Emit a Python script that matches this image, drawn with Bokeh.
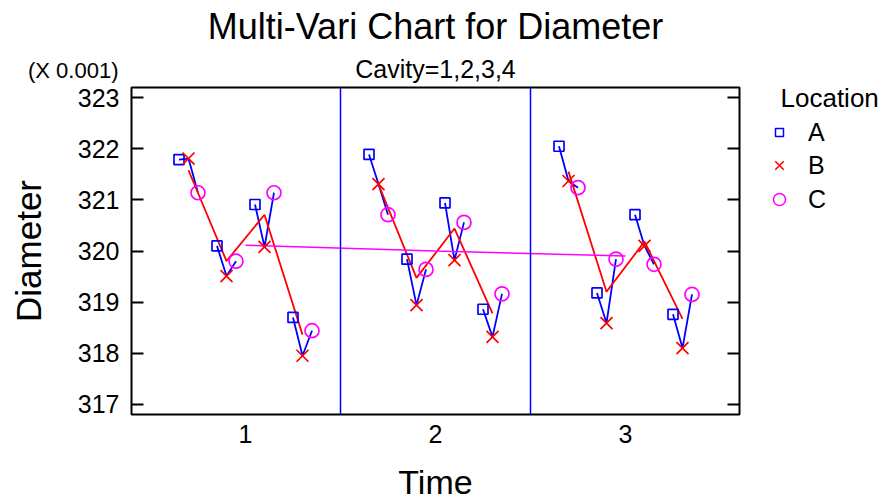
import numpy as np
from bokeh.plotting import figure
from bokeh.layouts import column, row
from bokeh.models import (LinearAxis, FixedTicker, Span, Legend, LegendItem,
                          Range1d)
from bokeh.core.properties import value
from bokeh.embed import file_html
from bokeh.resources import INLINE

# ---------------- data (Diameter, in units of 0.001) ----------------
times = [1, 2, 3]
time_labels = ["1", "2", "3"]
cavities = [1, 2, 3, 4]
locations = ["A", "B", "C"]

# rows = Time 1..3, columns = Cavity 1..4
diam_A = [[321.79, 320.10, 320.91, 318.70],
          [321.89, 319.84, 320.94, 318.86],
          [322.05, 319.18, 320.71, 318.76]]
diam_B = [[321.81, 319.51, 320.08, 317.95],
          [321.31, 318.94, 319.82, 318.32],
          [321.37, 318.59, 320.10, 318.10]]
diam_C = [[321.14, 319.80, 321.14, 318.44],
          [320.71, 319.64, 320.56, 319.16],
          [321.24, 319.84, 319.74, 319.15]]

y_ticks = [317, 318, 319, 320, 321, 322, 323]

title_text = "Multi-Vari Chart for Diameter"
subtitle_text = "Cavity=1,2,3,4"
scale_text = "(X 0.001)"
x_title = "Time"
y_title = "Diameter"
legend_title = "Location"

FONT = "Liberation Sans"
BLUE = "#0000FF"
RED = "#FF0000"
MAGENTA = "#FF00FF"

# ---------------- positions ----------------
cav_step = 0.2
loc_step = 0.05
A = np.array(diam_A); B = np.array(diam_B); C = np.array(diam_C)

xa, ya, xb, yb, xc, yc = [], [], [], [], [], []
blue_xs, blue_ys = [], []
red_xs, red_ys = [], []
mag_x, mag_y = [], []
for ti, t in enumerate(times):
    rx, ry = [], []
    for ci, c in enumerate(cavities):
        xm = t + (ci - (len(cavities) - 1) / 2) * cav_step
        pa, pb, pc = xm - loc_step, xm, xm + loc_step
        xa.append(pa); ya.append(A[ti, ci])
        xb.append(pb); yb.append(B[ti, ci])
        xc.append(pc); yc.append(C[ti, ci])
        blue_xs.append([pa, pb, pc])
        blue_ys.append([A[ti, ci], B[ti, ci], C[ti, ci]])
        rx.append(xm)
        ry.append((A[ti, ci] + B[ti, ci] + C[ti, ci]) / 3)
    red_xs.append(rx); red_ys.append(ry)
    mag_x.append(t); mag_y.append(float(np.mean(ry)))

W, H = 882, 504
HEADER_H = 83
MAIN_W = 749
MAIN_H = H - HEADER_H
FRAME_TOP, FRAME_BOTTOM = 87, 414
MID = 0.36   # text glyph anchor sits this many em above the baseline


def put_text(fig, x, y_base, txt, size, align):
    fig.text(x=[x], y=[y_base - MID * size], text=[txt], text_font=value(FONT),
             text_font_size=f"{size}px", text_align=align,
             text_baseline="middle", text_color="black")


def blank_fig(w, h, left=0, top=0):
    f = figure(width=w, height=h, x_range=Range1d(0, w - left),
               y_range=Range1d(h - top, 0), x_axis_type=None, y_axis_type=None,
               output_backend="svg", toolbar_location=None,
               min_border=0, min_border_left=left, min_border_right=0,
               min_border_top=top, min_border_bottom=0)
    f.outline_line_color = None
    f.background_fill_color = "white"
    f.border_fill_color = "white"
    return f


# ---------------- header (titles) ----------------
hdr = blank_fig(MAIN_W, HEADER_H)
put_text(hdr, 435, 38.5, title_text, 36, "center")
put_text(hdr, 435, 77.5, subtitle_text, 25, "center")
put_text(hdr, 118, 78, scale_text, 22, "right")

# ---------------- main plot ----------------
p = figure(width=MAIN_W, height=MAIN_H, x_range=(0.4, 3.6),
           y_range=(316.8, 323.2), x_axis_type=None, y_axis_type=None,
           output_backend="svg", toolbar_location=None,
           min_border_left=131, min_border_right=MAIN_W - 739,
           min_border_top=FRAME_TOP - HEADER_H,
           min_border_bottom=H - FRAME_BOTTOM)
p.outline_line_color = "black"
p.outline_line_width = 2
p.background_fill_color = "white"
p.border_fill_color = "white"

xaxis = LinearAxis(ticker=FixedTicker(ticks=times),
                   major_label_overrides={t: l for t, l in zip(times, time_labels)})
xaxis.major_tick_in = 0
xaxis.major_tick_out = 0
xaxis.minor_tick_in = 0
xaxis.minor_tick_out = 0
xaxis.axis_line_color = None
xaxis.major_label_standoff = 10
xaxis.major_label_text_font = FONT
xaxis.major_label_text_font_size = "25px"
xaxis.major_label_text_color = "black"
xaxis.axis_label = x_title
xaxis.axis_label_text_font = FONT
xaxis.axis_label_text_font_size = "34px"
xaxis.axis_label_text_font_style = "normal"
xaxis.axis_label_text_color = "black"
xaxis.axis_label_standoff = 17
p.add_layout(xaxis, "below")

for side in ["left", "right"]:
    ax = LinearAxis(ticker=FixedTicker(ticks=y_ticks))
    ax.major_tick_in = 12
    ax.major_tick_out = 0
    ax.minor_tick_in = 0
    ax.minor_tick_out = 0
    ax.major_tick_line_color = "black"
    ax.major_tick_line_width = 2
    ax.axis_line_color = None
    ax.major_label_text_font = FONT
    if side == "left":
        ax.major_label_standoff = 12
        ax.major_label_text_font_size = "25px"
        ax.major_label_text_color = "black"
        ax.axis_label = y_title
        ax.axis_label_text_font = FONT
        ax.axis_label_text_font_size = "35px"
        ax.axis_label_text_font_style = "normal"
        ax.axis_label_text_color = "black"
        ax.axis_label_standoff = 27
    else:
        ax.major_label_standoff = 0
        ax.major_label_text_font_size = "0px"
        ax.major_label_text_color = None
    p.add_layout(ax, side)

for t in times[:-1]:
    p.add_layout(Span(location=t + 0.5, dimension="height",
                      line_color=BLUE, line_width=1.5))

p.multi_line(blue_xs, blue_ys, line_color=BLUE, line_width=1.8)
p.multi_line(red_xs, red_ys, line_color=RED, line_width=1.8)
p.line(mag_x, mag_y, line_color=MAGENTA, line_width=1.5)

p.scatter(xa, ya, marker="square", size=10, fill_color=None,
          line_color=BLUE, line_width=1.7)
p.scatter(xb, yb, marker="x", size=17, line_color=RED, line_width=1.7)
p.scatter(xc, yc, marker="circle", size=14, fill_color=None,
          line_color=MAGENTA, line_width=1.7)

# ---------------- legend panel (full height, right of the plot) ----------------
LW = W - MAIN_W
LG_X0, LG_Y0 = 764, 82          # page position of the legend panel's frame
lg = blank_fig(LW, H, left=LG_X0 - MAIN_W, top=LG_Y0)
put_text(lg, 780 - LG_X0, 107 - LG_Y0, legend_title, 26, "left")

nan = [float("nan")]
spacer = lg.scatter(nan, nan, marker="square", line_alpha=0, fill_alpha=0)
pA = lg.scatter(nan, nan, marker="square", fill_color=None, line_color=BLUE,
                line_width=1.5)
pB = lg.scatter(nan, nan, marker="x", line_color=RED, line_width=1.6)
pC = lg.scatter(nan, nan, marker="circle", fill_color=None, line_color=MAGENTA,
                line_width=1.5)


def make_legend(entries, n_spacers, gw, standoff, margin, spacing):
    items = [LegendItem(label=" ", renderers=[spacer]) for _ in range(n_spacers)]
    items += [LegendItem(label=l, renderers=[r]) for l, r in entries]
    return Legend(items=items, location="top_left",
                  glyph_width=gw, glyph_height=30, label_height=30,
                  label_standoff=standoff, padding=0, margin=margin,
                  spacing=spacing, border_line_color=None,
                  background_fill_alpha=0, label_text_font=FONT,
                  label_text_font_size="25px", label_text_color="black")


# square key (8 px) and cross / circle keys (12 px)
lg.add_layout(make_legend([(locations[0], pA)], 1, 20, 19, 5, 0))
lg.add_layout(make_legend([(locations[1], pB), (locations[2], pC)], 2, 30, 14, 0, 4))

layout = row(column(hdr, row(p), spacing=0), lg, spacing=0)
open("out.html", "w").write(file_html(layout, INLINE))
